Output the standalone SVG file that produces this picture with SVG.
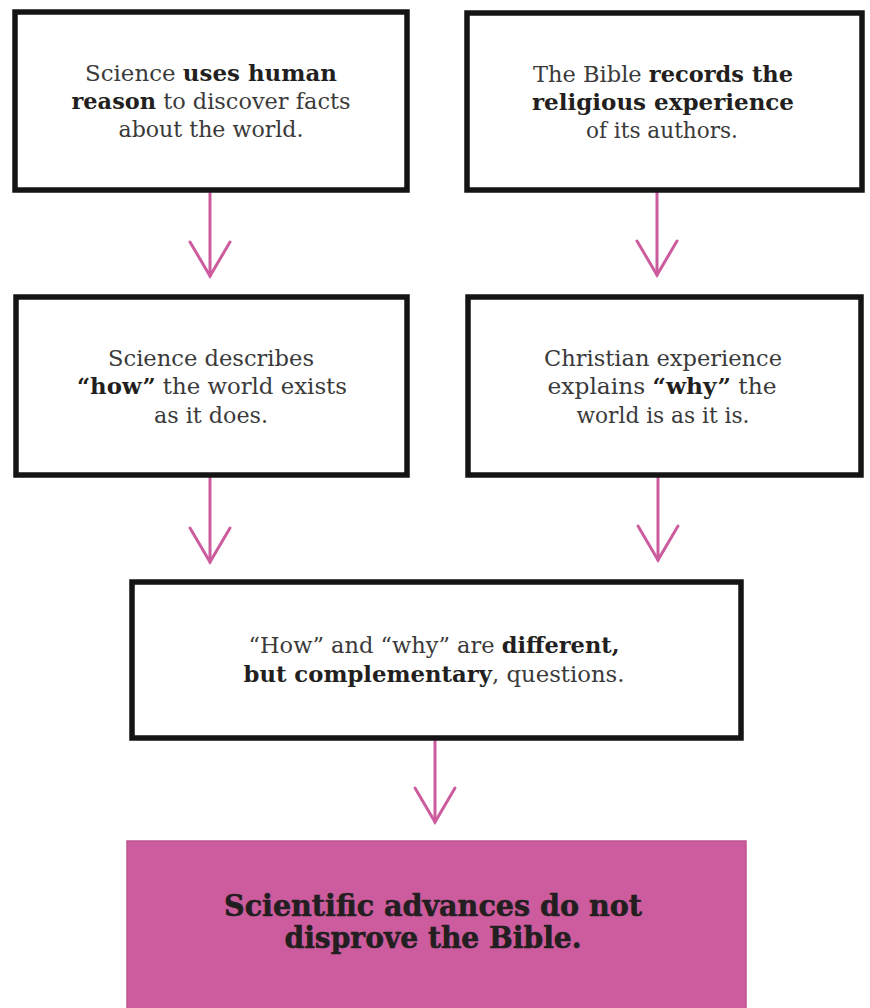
<svg xmlns="http://www.w3.org/2000/svg" width="870" height="1008" viewBox="0 0 870 1008">
<style>
.box{fill:#ffffff;stroke:#141414;stroke-width:5.5;stroke-linejoin:miter}
.t{font-family:"DejaVu Serif","Liberation Serif",serif;font-size:21.5px;fill:#3a3a3a;text-anchor:middle}
.b{font-weight:bold;fill:#231f20}
.con{fill:none;stroke:#cc5c9e;stroke-width:3;stroke-linecap:round}
.concl{fill:#cd5c9f;stroke:#bf5592;stroke-width:1.5}
.ct{font-family:"DejaVu Serif","Liberation Serif",serif;font-size:30px;font-weight:bold;fill:#231f20;stroke:#231f20;stroke-width:0.6;text-anchor:middle}
</style>
<defs>
<marker id="ah" markerUnits="userSpaceOnUse" viewBox="-38 -24 42 48" refX="0" refY="0" markerWidth="42" markerHeight="48" orient="auto">
<path d="M -34 -20 L 0 0 L -34 20" fill="none" stroke="#cc5c9e" stroke-width="3" stroke-linecap="round" stroke-linejoin="miter"/>
</marker>
</defs>
<rect width="870" height="1008" fill="#ffffff"/>

<g id="connectors">
<path class="con" d="M210 193 L210 276" marker-end="url(#ah)"/>
<path class="con" d="M657 192 L657 275" marker-end="url(#ah)"/>
<path class="con" d="M210 478 L210 562" marker-end="url(#ah)"/>
<path class="con" d="M658 478 L658 560" marker-end="url(#ah)"/>
<path class="con" d="M435 741 L435 822" marker-end="url(#ah)"/>
</g>

<g id="node-science-reason">
<rect class="box" x="15" y="12" width="392" height="178"/>
<text class="t" x="211" y="81" textLength="252" lengthAdjust="spacingAndGlyphs">Science <tspan class="b">uses human</tspan></text>
<text class="t" x="211" y="109" textLength="279" lengthAdjust="spacingAndGlyphs"><tspan class="b">reason</tspan> to discover facts</text>
<text class="t" x="211" y="137" textLength="185" lengthAdjust="spacingAndGlyphs">about the world.</text>
</g>

<g id="node-bible-records">
<rect class="box" x="467" y="13" width="395" height="177"/>
<text class="t" x="663" y="82" textLength="260" lengthAdjust="spacingAndGlyphs">The Bible <tspan class="b">records the</tspan></text>
<text class="t b" x="663" y="110" textLength="262" lengthAdjust="spacingAndGlyphs">religious experience</text>
<text class="t" x="662" y="138" textLength="152" lengthAdjust="spacingAndGlyphs">of its authors.</text>
</g>

<g id="node-science-how">
<rect class="box" x="16" y="297" width="391" height="178"/>
<text class="t" x="211" y="366" textLength="206" lengthAdjust="spacingAndGlyphs">Science describes</text>
<text class="t" x="212" y="394" textLength="270" lengthAdjust="spacingAndGlyphs"><tspan class="b">“how”</tspan> the world exists</text>
<text class="t" x="211" y="423" textLength="114" lengthAdjust="spacingAndGlyphs">as it does.</text>
</g>

<g id="node-christian-why">
<rect class="box" x="468" y="297" width="393" height="178"/>
<text class="t" x="663" y="366" textLength="238" lengthAdjust="spacingAndGlyphs">Christian experience</text>
<text class="t" x="662" y="394" textLength="229" lengthAdjust="spacingAndGlyphs">explains <tspan class="b">“why”</tspan> the</text>
<text class="t" x="663" y="423" textLength="173" lengthAdjust="spacingAndGlyphs">world is as it is.</text>
</g>

<g id="node-how-why">
<rect class="box" x="132" y="582" width="609" height="156"/>
<text class="t" x="434" y="653" textLength="371" lengthAdjust="spacingAndGlyphs">“How” and “why” are <tspan class="b">different,</tspan></text>
<text class="t" x="434" y="682" textLength="381" lengthAdjust="spacingAndGlyphs"><tspan class="b">but complementary</tspan>, questions.</text>
</g>

<g id="node-conclusion">
<rect class="concl" x="127" y="841" width="619" height="170"/>
<text class="ct" x="433" y="916" textLength="418" lengthAdjust="spacingAndGlyphs">Scientific advances do not</text>
<text class="ct" x="433" y="948" textLength="297" lengthAdjust="spacingAndGlyphs">disprove the Bible.</text>
</g>
</svg>
